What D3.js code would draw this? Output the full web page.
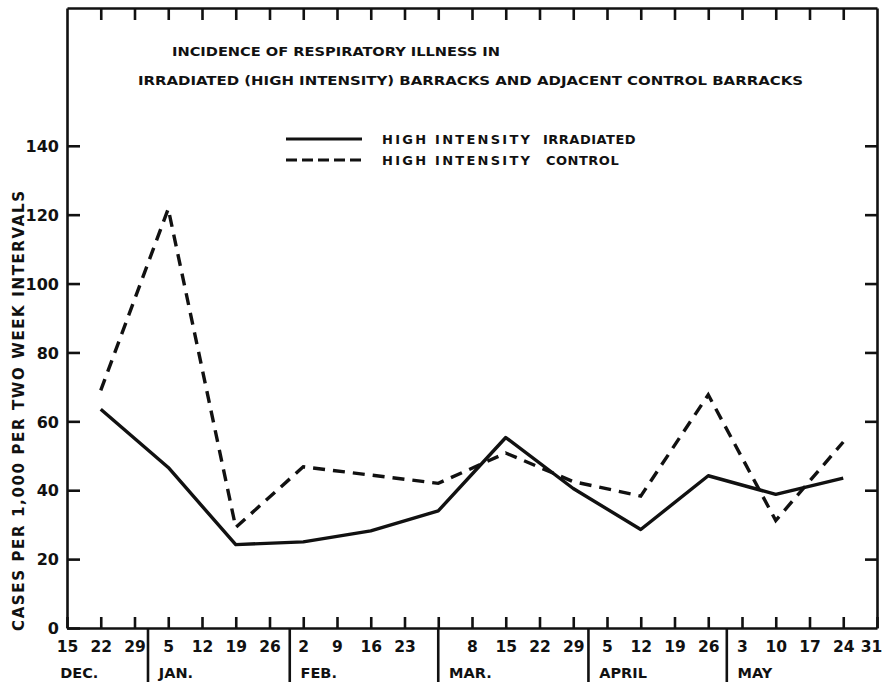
<!DOCTYPE html>
<html>
<head>
<meta charset="utf-8">
<script src="https://cdn.jsdelivr.net/npm/d3@7"></script>
<style>
  body { margin: 0; background: #fff; }
  text { font-family: "DejaVu Sans", sans-serif; font-weight: bold; fill: #111; }
  .cond { font-family: "DejaVu Sans Condensed", "DejaVu Sans", sans-serif; }
</style>
</head>
<body>
<div id="chart"></div>
<script>
// Chart values (weekly index 0 = Dec 15 ... 24 = May 31)
const dayLabels = ["15", "22", "29", "5", "12", "19", "26", "2", "9", "16", "23", "",
                   "8", "15", "22", "29", "5", "12", "19", "26", "3", "10", "17", "24", "31"];
const months = ["DEC.", "JAN.", "FEB.", "MAR.", "APRIL", "MAY"];
const monthBreaks = [2.4, 6.6, 11, 15.45, 19.55];   // week index of month separators
const yTicks = [0, 20, 40, 60, 80, 100, 120, 140];

const weekIdx = [1, 3, 5, 7, 9, 11, 13, 15, 17, 19, 21, 23];
const irradiated = [63.5, 46.6, 24.2, 25.0, 28.2, 34.0, 55.3, 40.5, 28.6, 44.2, 38.8, 43.5];
const control = [69.0, 121.7, 29.2, 46.8, 44.4, 42.0, 50.8, 42.5, 38.3, 67.7, 31.2, 54.0];

const width = 886;
const height = 683;

const svg = d3.select("#chart")
    .append("svg")
    .attr("width", width)
    .attr("height", height);

// Scales
const x = d3.scaleLinear().domain([0, 24]).range([67, 877]);
const y = d3.scaleLinear().domain([0, 180]).range([628, 8]);

// Frame and axes
const axisStroke = g => g.selectAll("path, line").attr("stroke", "#111").attr("stroke-width", 2.6);

svg.append("g")
    .attr("transform", `translate(0,${y(0)})`)
    .call(d3.axisBottom(x).tickValues(d3.range(25)).tickSizeInner(-11).tickSizeOuter(0)
        .tickFormat(i => dayLabels[i]))
    .call(axisStroke)
    .call(g => g.selectAll(".tick text")
        .attr("dy", 0).attr("y", 24)
        .attr("x", i => i === 24 ? -6 : 0)
        .style("font-size", "15.5px").style("font-family", "DejaVu Sans"));

svg.append("g")
    .attr("transform", `translate(0,${y(180)})`)
    .call(d3.axisTop(x).tickValues(d3.range(1, 24)).tickSizeInner(-12).tickSizeOuter(0)
        .tickFormat(""))
    .call(axisStroke);

svg.append("g")
    .attr("transform", `translate(${x(0)},0)`)
    .call(d3.axisLeft(y).tickValues(yTicks).tickSizeInner(-13).tickSizeOuter(0)
        .tickFormat(d3.format("d")))
    .call(axisStroke)
    .call(g => g.selectAll(".tick text")
        .attr("x", -8).attr("dy", "0.36em")
        .style("font-size", "16px").style("font-family", "DejaVu Sans"));

svg.append("g")
    .attr("transform", `translate(${x(24)},0)`)
    .call(d3.axisRight(y).tickValues(yTicks.slice(1)).tickSizeInner(-12).tickSizeOuter(0)
        .tickFormat(""))
    .call(axisStroke);

// Month separators and names
svg.selectAll(".sep")
    .data(monthBreaks)
    .enter().append("line")
    .attr("x1", d => x(d)).attr("x2", d => x(d))
    .attr("y1", y(0)).attr("y2", y(0) + 54)
    .attr("stroke", "#111").attr("stroke-width", 2.6);

const monthStarts = [-0.2].concat(monthBreaks.map(d => d + 0.32));
svg.selectAll(".month")
    .data(months)
    .enter().append("text")
    .attr("x", (d, i) => x(monthStarts[i]))
    .attr("y", 678)
    .style("font-size", "14.5px")
    .text(d => d);

// Y axis title
svg.append("text")
    .attr("transform", `translate(24,${411}) rotate(-90)`)
    .attr("text-anchor", "middle")
    .attr("textLength", 440)
    .attr("lengthAdjust", "spacing")
    .style("font-size", "15px")
    .text("CASES  PER  1,000  PER  TWO  WEEK  INTERVALS");

// Title
svg.append("text").attr("class", "cond")
    .attr("x", 172).attr("y", 56)
    .attr("textLength", 328).attr("lengthAdjust", "spacingAndGlyphs")
    .style("font-size", "13px")
    .text("INCIDENCE OF RESPIRATORY ILLNESS IN");
svg.append("text").attr("class", "cond")
    .attr("x", 138).attr("y", 85)
    .attr("textLength", 665).attr("lengthAdjust", "spacingAndGlyphs")
    .style("font-size", "13px")
    .text("IRRADIATED (HIGH INTENSITY) BARRACKS AND ADJACENT CONTROL BARRACKS");

// Series
const line = d3.line()
    .x((d, i) => x(weekIdx[i]))
    .y(d => y(d));

svg.append("path")
    .attr("d", line(irradiated))
    .attr("fill", "none").attr("stroke", "#111")
    .attr("stroke-width", 3.4).attr("stroke-linejoin", "round");

svg.append("path")
    .attr("d", line(control))
    .attr("fill", "none").attr("stroke", "#111")
    .attr("stroke-width", 3.4).attr("stroke-dasharray", "12,8");

// Legend
const legend = [
    { name: "IRRADIATED", dash: null, ly: 139, nx: 543 },
    { name: "CONTROL", dash: "11,5", ly: 160, nx: 546 }
];
legend.forEach(d => {
    svg.append("line")
        .attr("x1", 286).attr("x2", 362)
        .attr("y1", d.ly).attr("y2", d.ly)
        .attr("stroke", "#111").attr("stroke-width", 3.2)
        .attr("stroke-dasharray", d.dash);
    svg.append("text")
        .attr("x", 382).attr("y", d.ly + 5)
        .attr("textLength", 148).attr("lengthAdjust", "spacing")
        .style("font-size", "13px")
        .text("HIGH  INTENSITY");
    svg.append("text")
        .attr("x", d.nx).attr("y", d.ly + 5)
        .style("font-size", "13px")
        .style("letter-spacing", "0.5px")
        .text(d.name);
});
</script>
</body>
</html>
